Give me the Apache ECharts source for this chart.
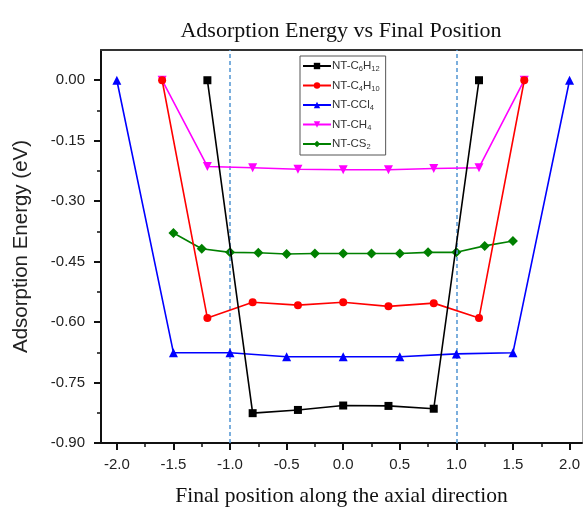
<!DOCTYPE html>
<html>
<head>
<meta charset="utf-8">
<script src="https://cdn.jsdelivr.net/npm/echarts@6/dist/echarts.min.js"></script>
<style>html,body{margin:0;padding:0;background:#fff}#c{width:585px;height:512px}</style>
</head>
<body>
<div id="c"></div>
<script>
const seriesNames = ['NT-C6H12', 'NT-C4H10', 'NT-CCl4', 'NT-CH4', 'NT-CS2'];
const legendLabels = ['NT-C{s|6}H{s|12}', 'NT-C{s|4}H{s|10}', 'NT-CCl{s|4}', 'NT-CH{s|4}', 'NT-CS{s|2}'];

const posC6H12 = [-1.2, -0.8, -0.4, 0, 0.4, 0.8, 1.2];
const eC6H12   = [0, -0.826, -0.818, -0.807, -0.808, -0.815, 0];

const posC4H10 = [-1.6, -1.2, -0.8, -0.4, 0, 0.4, 0.8, 1.2, 1.6];
const eC4H10   = [0, -0.590, -0.551, -0.558, -0.551, -0.561, -0.553, -0.590, 0];

const posCCl4 = [-2, -1.5, -1, -0.5, 0, 0.5, 1, 1.5, 2];
const eCCl4   = [0, -0.676, -0.676, -0.686, -0.686, -0.686, -0.679, -0.676, 0];

const posCH4 = [-1.6, -1.2, -0.8, -0.4, 0, 0.4, 0.8, 1.2, 1.6];
const eCH4   = [0, -0.214, -0.217, -0.221, -0.222, -0.222, -0.219, -0.217, 0];

const posCS2 = [-1.5, -1.25, -1, -0.75, -0.5, -0.25, 0, 0.25, 0.5, 0.75, 1, 1.25, 1.5];
const eCS2   = [-0.379, -0.418, -0.427, -0.428, -0.431, -0.430, -0.430, -0.430, -0.430, -0.427, -0.427, -0.411, -0.399];

const xTicks = [-2.0, -1.5, -1.0, -0.5, 0.0, 0.5, 1.0, 1.5, 2.0];
const xMinorTicks = [-1.75, -1.25, -0.75, -0.25, 0.25, 0.75, 1.25, 1.75];
const yTicks = [-0.90, -0.75, -0.60, -0.45, -0.30, -0.15, 0.00];
const yMinorTicks = [-0.825, -0.675, -0.525, -0.375, -0.225, -0.075];
const refLines = [-1.0, 1.0];

const colors = ['#000000', '#FF0000', '#0000FF', '#FF00FF', '#008000'];
const symbols = ['rect', 'circle', 'triangle', 'triangle', 'diamond'];
const symbolRot = [0, 0, 0, 180, 0];
const symbolSizes = [8, 8, 9, 9, 10];
const positions = [posC6H12, posC4H10, posCCl4, posCH4, posCS2];
const energies = [eC6H12, eC4H10, eCCl4, eCH4, eCS2];

const X_MIN = -2.14, X_MAX = 2.11, Y_MIN = -0.9, Y_MAX = 0.075;
const sans = 'Liberation Sans, Arial, sans-serif';
const serif = 'Liberation Serif, Times New Roman, serif';

const chart = echarts.init(document.getElementById('c'), null, {renderer: 'canvas'});

const series = seriesNames.map((n, i) => ({
  name: n,
  type: 'line',
  xAxisIndex: 0,
  yAxisIndex: 0,
  data: positions[i].map((p, j) => [p, energies[i][j]]),
  symbol: symbols[i],
  symbolRotate: symbolRot[i],
  symbolSize: symbolSizes[i],
  itemStyle: {color: colors[i]},
  lineStyle: {color: colors[i], width: 1.6},
  z: 3 + (seriesNames.length - i)
}));
series.push({
  type: 'line',
  data: [],
  xAxisIndex: 0,
  yAxisIndex: 0,
  silent: true,
  markLine: {
    symbol: 'none',
    silent: true,
    label: {show: false},
    lineStyle: {color: '#5B9BD5', type: [4, 3], width: 1.6},
    data: refLines.map(v => ({xAxis: v}))
  }
});

const legendMap = {};
seriesNames.forEach((n, i) => legendMap[n] = legendLabels[i]);

chart.setOption({
  animation: false,
  backgroundColor: '#ffffff',
  title: {
    text: 'Adsorption Energy vs Final Position',
    left: 336, textAlign: 'center',
    top: 15,
    textStyle: {fontFamily: serif, fontSize: 22, fontWeight: 'normal', color: '#111'}
  },
  legend: {
    data: seriesNames,
    orient: 'vertical',
    left: 300, top: 56,
    itemWidth: 28, itemHeight: 8, itemGap: 6.5,
    padding: [4, 6, 4, 2],
    borderColor: '#555', borderWidth: 1,
    formatter: n => legendMap[n],
    textStyle: {fontFamily: sans, fontSize: 11.5, color: '#333', padding: [0, 0, 0, -4],
      rich: {s: {fontFamily: sans, fontSize: 7.5, color: '#333', padding: [6, 0, 0, 0]}}}
  },
  grid: {left: 101, right: 3, top: 50, bottom: 64, containLabel: false},
  xAxis: [{
    type: 'value', min: X_MIN, max: X_MAX, position: 'bottom',
    name: 'Final position along the axial direction',
    nameLocation: 'middle', nameGap: 42,
    nameTextStyle: {fontFamily: serif, fontSize: 21.5, color: '#111'},
    axisLine: {show: true, onZero: false, lineStyle: {color: '#111', width: 2}},
    axisTick: {show: true, customValues: xTicks, length: 7, lineStyle: {color: '#111', width: 2}},
    axisLabel: {customValues: xTicks, formatter: v => v.toFixed(1), margin: 14,
      fontFamily: sans, fontSize: 15, color: '#222'},
    splitLine: {show: false}
  }, {
    type: 'value', min: X_MIN, max: X_MAX, position: 'bottom', gridIndex: 0,
    axisLine: {show: false, onZero: false},
    axisTick: {show: true, customValues: xMinorTicks, length: 4, lineStyle: {color: '#111', width: 1.5}},
    axisLabel: {show: false},
    splitLine: {show: false}
  }, {
    type: 'value', min: X_MIN, max: X_MAX, position: 'top', gridIndex: 0,
    axisLine: {show: true, onZero: false, lineStyle: {color: '#333', width: 2}},
    axisTick: {show: false}, axisLabel: {show: false}, splitLine: {show: false}
  }],
  yAxis: [{
    type: 'value', min: Y_MIN, max: Y_MAX, position: 'left',
    name: 'Adsorption Energy (eV)',
    nameLocation: 'middle', nameGap: 69,
    nameTextStyle: {fontFamily: sans, fontSize: 20.5, color: '#222'},
    axisLine: {show: true, onZero: false, lineStyle: {color: '#111', width: 2}},
    axisTick: {show: true, customValues: yTicks, length: 7, lineStyle: {color: '#111', width: 2}},
    axisLabel: {customValues: yTicks, formatter: v => v.toFixed(2), margin: 16,
      fontFamily: sans, fontSize: 15, color: '#222'},
    splitLine: {show: false}
  }, {
    type: 'value', min: Y_MIN, max: Y_MAX, position: 'left', gridIndex: 0,
    axisLine: {show: false, onZero: false},
    axisTick: {show: true, customValues: yMinorTicks, length: 4, lineStyle: {color: '#111', width: 1.5}},
    axisLabel: {show: false}, splitLine: {show: false}
  }, {
    type: 'value', min: Y_MIN, max: Y_MAX, position: 'right', gridIndex: 0,
    axisLine: {show: true, onZero: false, lineStyle: {color: '#aaa', width: 1}},
    axisTick: {show: false}, axisLabel: {show: false}, splitLine: {show: false}
  }],
  series: series
});
</script>
</body>
</html>
